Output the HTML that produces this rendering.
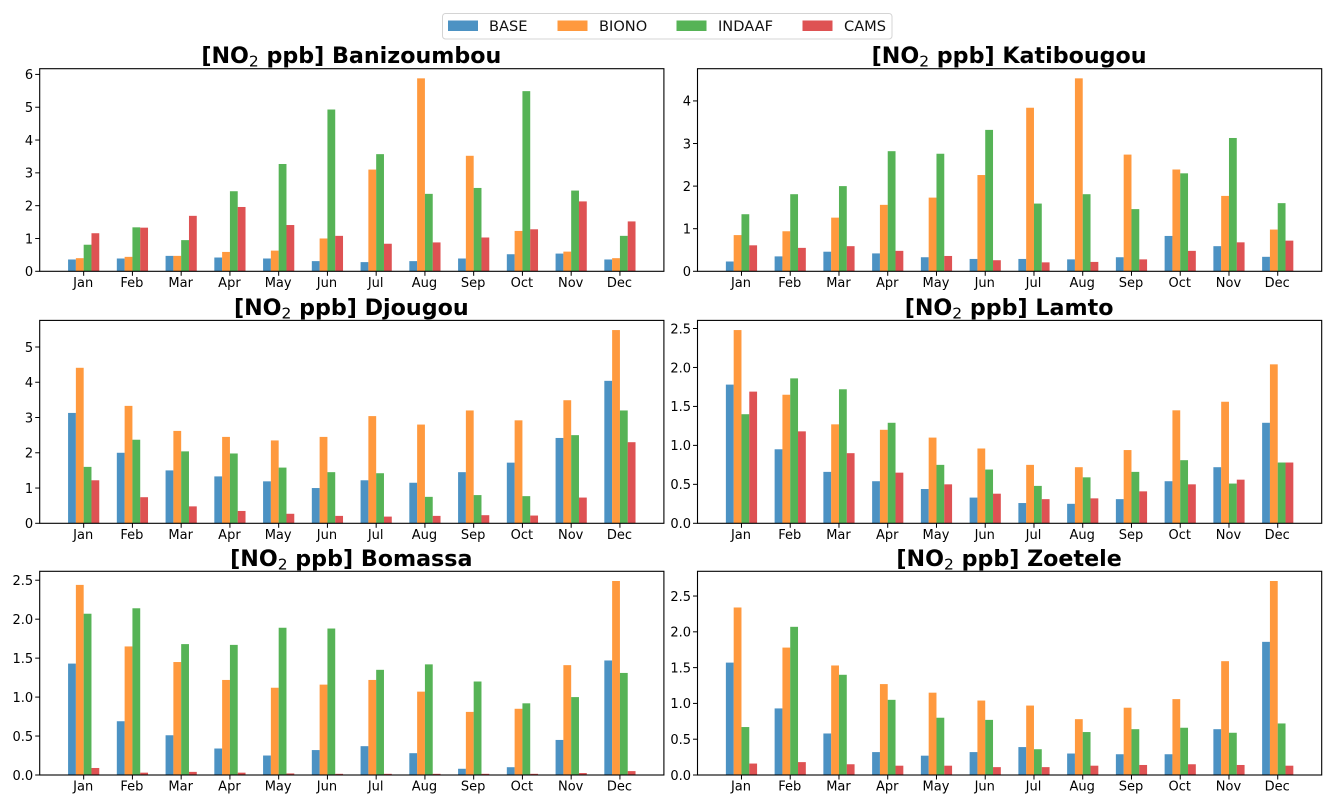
<!DOCTYPE html>
<html lang="en">
<head>
<meta charset="utf-8">
<title>NO2 monthly means by station</title>
<style>
html,body{margin:0;padding:0;background:#fff;width:1335px;height:806px;overflow:hidden}
svg{display:block;font-family:"DejaVu Sans","Liberation Sans",sans-serif}
</style>
</head>
<body>
<svg id="chart" xmlns="http://www.w3.org/2000/svg" width="1335" height="806" viewBox="0 0 1335 806">
  <g>
    <rect x="442.5" y="13.5" width="449.5" height="25.5" rx="3" fill="#fff" stroke="#d4d4d4" stroke-width="1"/>
    <rect x="448" y="20.5" width="30" height="10.5" fill="#1f77b4" fill-opacity="0.8"/>
    <text x="489" y="31" font-size="14.6" fill="#111">BASE</text>
    <rect x="557.5" y="20.5" width="30" height="10.5" fill="#ff7f0e" fill-opacity="0.8"/>
    <text x="599" y="31" font-size="14.6" fill="#111">BIONO</text>
    <rect x="676.5" y="20.5" width="30" height="10.5" fill="#2ca02c" fill-opacity="0.8"/>
    <text x="718" y="31" font-size="14.6" fill="#111">INDAAF</text>
    <rect x="802.5" y="20.5" width="30" height="10.5" fill="#d62728" fill-opacity="0.8"/>
    <text x="844" y="31" font-size="14.6" fill="#111">CAMS</text>
  </g>
</svg>
<script>
const months = ['Jan','Feb','Mar','Apr','May','Jun','Jul','Aug','Sep','Oct','Nov','Dec'];
const seriesNames = ['BASE','BIONO','INDAAF','CAMS'];
const seriesColors = ['#1f77b4','#ff7f0e','#2ca02c','#d62728'];

const banizoumbouBase   = [0.36,0.39,0.47,0.42,0.39,0.31,0.28,0.31,0.39,0.52,0.54,0.36];
const banizoumbouBiono  = [0.40,0.44,0.47,0.59,0.63,1.00,3.10,5.88,3.52,1.23,0.60,0.40];
const banizoumbouIndaaf = [0.81,1.34,0.95,2.44,3.27,4.93,3.57,2.36,2.54,5.49,2.46,1.08];
const banizoumbouCams   = [1.16,1.33,1.69,1.96,1.41,1.08,0.84,0.88,1.03,1.28,2.13,1.52];
const banizoumbouTicks  = [0,1,2,3,4,5,6];
const banizoumbouTickLabels = ['0','1','2','3','4','5','6'];

const katibougouBase   = [0.23,0.35,0.46,0.42,0.33,0.29,0.29,0.28,0.33,0.83,0.59,0.34];
const katibougouBiono  = [0.85,0.94,1.26,1.56,1.73,2.26,3.84,4.53,2.74,2.39,1.77,0.98];
const katibougouIndaaf = [1.34,1.81,2.00,2.82,2.76,3.32,1.59,1.81,1.46,2.30,3.13,1.60];
const katibougouCams   = [0.61,0.55,0.59,0.48,0.36,0.26,0.21,0.22,0.28,0.48,0.68,0.72];
const katibougouTicks  = [0,1,2,3,4];
const katibougouTickLabels = ['0','1','2','3','4'];

const djougouBase   = [3.13,2.00,1.50,1.33,1.19,1.00,1.22,1.15,1.45,1.72,2.42,4.04];
const djougouBiono  = [4.41,3.33,2.62,2.45,2.35,2.45,3.04,2.80,3.20,2.92,3.49,5.48];
const djougouIndaaf = [1.60,2.37,2.04,1.98,1.58,1.45,1.42,0.75,0.80,0.77,2.50,3.20];
const djougouCams   = [1.22,0.74,0.48,0.35,0.27,0.21,0.19,0.21,0.23,0.22,0.73,2.30];
const djougouTicks  = [0,1,2,3,4,5];
const djougouTickLabels = ['0','1','2','3','4','5'];

const lamtoBase   = [1.78,0.95,0.66,0.54,0.44,0.33,0.26,0.25,0.31,0.54,0.72,1.29];
const lamtoBiono  = [2.48,1.65,1.27,1.20,1.10,0.96,0.75,0.72,0.94,1.45,1.56,2.04];
const lamtoIndaaf = [1.40,1.86,1.72,1.29,0.75,0.69,0.48,0.59,0.66,0.81,0.51,0.78];
const lamtoCams   = [1.69,1.18,0.90,0.65,0.50,0.38,0.31,0.32,0.41,0.50,0.56,0.78];
const lamtoTicks  = [0,0.5,1,1.5,2,2.5];
const lamtoTickLabels = ['0.0','0.5','1.0','1.5','2.0','2.5'];

const bomassaBase   = [1.43,0.69,0.51,0.34,0.25,0.32,0.37,0.28,0.08,0.10,0.45,1.47];
const bomassaBiono  = [2.44,1.65,1.45,1.22,1.12,1.16,1.22,1.07,0.81,0.85,1.41,2.49];
const bomassaIndaaf = [2.07,2.14,1.68,1.67,1.89,1.88,1.35,1.42,1.20,0.92,1.00,1.31];
const bomassaCams   = [0.09,0.03,0.04,0.03,0.02,0.015,0.015,0.015,0.015,0.015,0.025,0.05];
const bomassaTicks  = [0,0.5,1,1.5,2,2.5];
const bomassaTickLabels = ['0.0','0.5','1.0','1.5','2.0','2.5'];

const zoeteleBase   = [1.57,0.93,0.58,0.32,0.27,0.32,0.39,0.30,0.29,0.29,0.64,1.86];
const zoeteleBiono  = [2.34,1.78,1.53,1.27,1.15,1.04,0.97,0.78,0.94,1.06,1.59,2.71];
const zoeteleIndaaf = [0.67,2.07,1.40,1.05,0.80,0.77,0.36,0.60,0.64,0.66,0.59,0.72];
const zoeteleCams   = [0.16,0.18,0.15,0.13,0.13,0.11,0.11,0.13,0.14,0.15,0.14,0.13];
const zoeteleTicks  = [0,0.5,1,1.5,2,2.5];
const zoeteleTickLabels = ['0.0','0.5','1.0','1.5','2.0','2.5'];

const stationNames = ['Banizoumbou','Katibougou','Djougou','Lamto','Bomassa','Zoetele'];
const stationSeries = [
  [banizoumbouBase, banizoumbouBiono, banizoumbouIndaaf, banizoumbouCams],
  [katibougouBase, katibougouBiono, katibougouIndaaf, katibougouCams],
  [djougouBase, djougouBiono, djougouIndaaf, djougouCams],
  [lamtoBase, lamtoBiono, lamtoIndaaf, lamtoCams],
  [bomassaBase, bomassaBiono, bomassaIndaaf, bomassaCams],
  [zoeteleBase, zoeteleBiono, zoeteleIndaaf, zoeteleCams]
];
const stationTicks = [banizoumbouTicks, katibougouTicks, djougouTicks, lamtoTicks, bomassaTicks, zoeteleTicks];
const stationTickLabels = [banizoumbouTickLabels, katibougouTickLabels, djougouTickLabels, lamtoTickLabels, bomassaTickLabels, zoeteleTickLabels];

const NS = 'http://www.w3.org/2000/svg';
const root = document.getElementById('chart');
const colLeft = [39.7, 697.5];
const plotWidth = 624.2;
const rowTop = [68.7, 320.4, 571.3];
const rowBottom = [271.3, 523.3, 775];
const barWidth = 0.16;
const xMin = -0.902;
const xMax = 11.902;

function make(tag, parent, attrs, text) {
  const el = document.createElementNS(NS, tag);
  for (const k in attrs) el.setAttribute(k, attrs[k]);
  if (text !== undefined) el.textContent = text;
  parent.appendChild(el);
  return el;
}
function slug(s) { return s.toLowerCase(); }

stationNames.forEach(function (station, p) {
  const left = colLeft[p % 2];
  const top = rowTop[Math.floor(p / 2)];
  const bottom = rowBottom[Math.floor(p / 2)];
  const plotHeight = bottom - top;
  const series = stationSeries[p];
  const yMax = 1.05 * Math.max.apply(null, series.map(function (s) { return Math.max.apply(null, s); }));
  const xScale = function (v) { return left + (v - xMin) / (xMax - xMin) * plotWidth; };
  const yScale = function (v) { return bottom - v / yMax * plotHeight; };

  const panel = make('g', root, {});
  
  

  const title = make('text', panel, {
    x: left + plotWidth / 2 - 0.5, y: top - 5.5, 'text-anchor': 'middle',
    'font-size': 22.2, 'font-weight': 'bold', fill: '#000'
  });
  
  
  make('tspan', title, {}, '[NO');
  make('tspan', title, { 'font-size': 15.5, 'font-weight': 'normal', dy: 3.5 }, '2');
  make('tspan', title, { dy: -3.5 }, ' ppb] ' + station);

  series.forEach(function (values, s) {
    values.forEach(function (v, m) {
      const xLeft = xScale(m + (s - 2) * barWidth);
      const yTop = yScale(v);
      const bar = make('rect', panel, {
        x: xLeft, y: yTop, width: xScale(barWidth) - xScale(0), height: bottom - yTop,
        fill: seriesColors[s], 'fill-opacity': 0.8
      });
      
      
    });
  });

  months.forEach(function (label, m) {
    const x = xScale(m);
    const tick = make('line', panel, { x1: x, x2: x, y1: bottom, y2: bottom + 4.5, stroke: '#000', 'stroke-width': 1 });
    
    
    const text = make('text', panel, { x: x - 0.5, y: bottom + 15.5, 'text-anchor': 'middle', 'font-size': 13, fill: '#000' }, label);
    
    
  });

  stationTicks[p].forEach(function (v, i) {
    const y = yScale(v);
    const tick = make('line', panel, { x1: left - 4.5, x2: left, y1: y, y2: y, stroke: '#000', 'stroke-width': 1 });
    
    
    const text = make('text', panel, { x: left - 6.5, y: y + 4.8, 'text-anchor': 'end', 'font-size': 13, fill: '#000' }, stationTickLabels[p][i]);
    
    
  });

  const frame = make('rect', panel, { x: left, y: top, width: plotWidth, height: plotHeight, fill: 'none', stroke: '#000', 'stroke-width': 1.1 });
  
  
});
</script>
</body>
</html>
